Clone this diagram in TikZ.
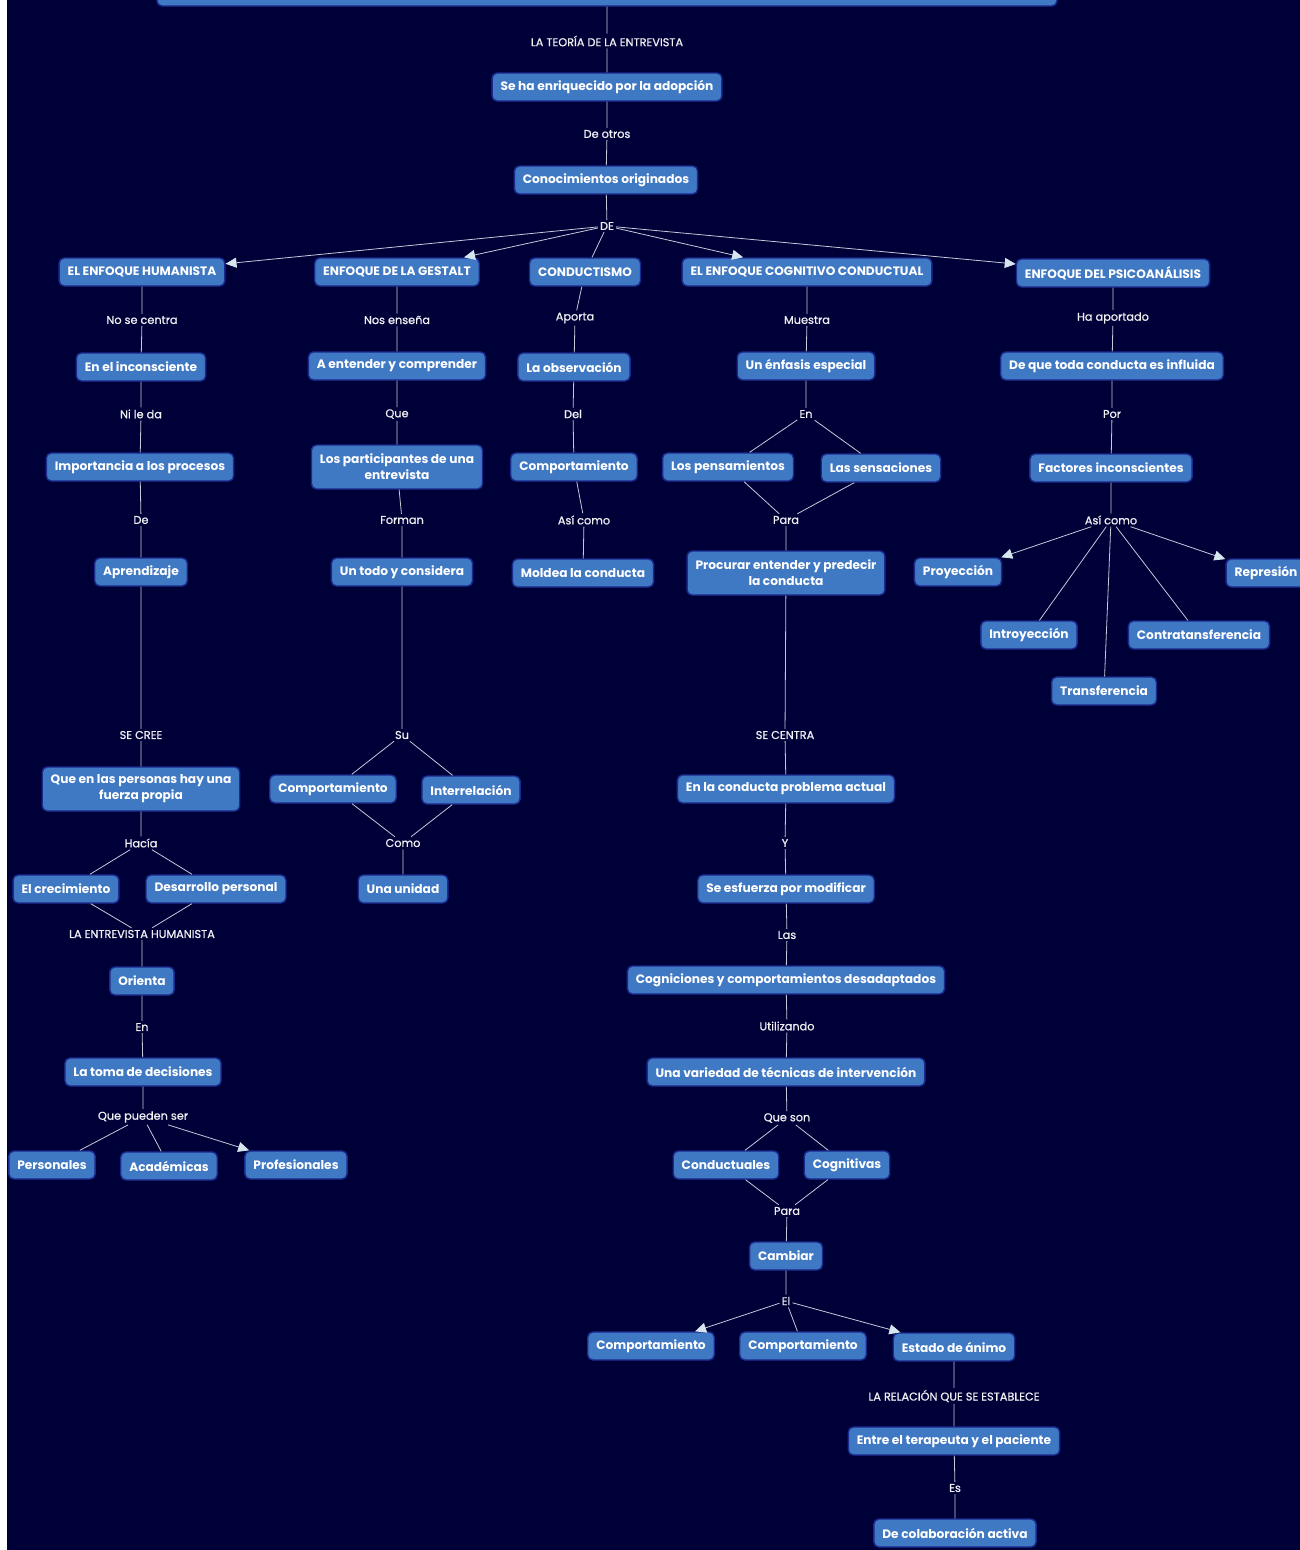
\documentclass[tikz,border=0pt]{standalone}
\usepackage{fontspec}
\setmainfont{Poppins}
\newfontfamily\enlacefont[FakeBold=0.8]{Poppins}
\usetikzlibrary{arrows.meta}
\definecolor{fondo}{HTML}{000038}
\definecolor{caja}{HTML}{3F78C3}
\definecolor{borde}{HTML}{1B2A8E}
\definecolor{linea}{HTML}{C4CAD8}
\definecolor{punta}{HTML}{D6E6EE}
\tikzstyle{concept}=[rectangle,rounded corners=5pt,fill=caja,draw=borde,line width=1.4pt,text=white,font=\fontsize{12.2}{16}\selectfont\bfseries,inner xsep=8.5pt,minimum height=28pt,align=center]
\tikzstyle{doble}=[concept,minimum height=44pt]
\tikzstyle{enlace}=[text=white!94!fondo,font=\enlacefont\fontsize{11.3}{12}\selectfont,inner sep=2pt]

\begin{document}
\begin{tikzpicture}[x=1pt,y=-1pt]
					\tikzstyle{conn}=[draw=linea,line width=0.8pt]
					\tikzstyle{flecha}=[conn,-{Triangle[length=11pt,width=10pt,color=punta]}]
					\useasboundingbox (0,0) rectangle (1300,1550);
					\clip (0,0) rectangle (1300,1550);
					\fill[fondo] (7,0) rectangle (1300,1550);
					% parte superior
					\node[concept,minimum width=900pt,minimum height=40pt] (titulo) at (607,-14) {};
					\node[enlace] (l0) at (607,41) {LA TEORÍA DE LA ENTREVISTA};
					\node[concept] (enriq) at (607,87) {Se ha enriquecido por la adopción};
					\node[enlace] (l1) at (607,134) {De otros};
					\node[concept] (conoc) at (606,180) {Conocimientos originados};
					\node[enlace] (de) at (607,226) {DE};
					\node[concept] (hum) at (142,272) {EL ENFOQUE HUMANISTA};
					\node[concept] (gest) at (397,272) {ENFOQUE DE LA GESTALT};
					\node[concept] (cond) at (585,272) {CONDUCTISMO};
					\node[concept] (cog) at (807,272) {EL ENFOQUE COGNITIVO CONDUCTUAL};
					\node[concept] (psi) at (1113,273) {ENFOQUE DEL PSICOANÁLISIS};
					\draw[conn] (titulo) -- (l0) -- (enriq) -- (l1) -- (conoc) -- (de);
					\draw[flecha] (de) -- (hum);
					\draw[flecha] (de) -- (gest);
					\draw[conn] (de) -- (cond);
					\draw[flecha] (de) -- (cog);
					\draw[flecha] (de) -- (psi);
					% humanista
					\node[enlace] (h1) at (142,320) {No se centra};
					\node[concept] (inco) at (141,367) {En el inconsciente};
					\node[enlace] (h2) at (141,414) {Ni le da};
					\node[concept] (impo) at (140,467) {Importancia a los procesos};
					\node[enlace] (h3) at (141,520) {De};
					\node[concept] (apre) at (141,572) {Aprendizaje};
					\node[enlace] (h4) at (141,735) {SE CREE};
					\node[doble] (fuer) at (141,789) {Que en las personas hay una\\fuerza propia};
					\node[enlace] (h5) at (141,843) {Hacía};
					\node[concept] (crec) at (66,889) {El crecimiento};
					\node[concept] (desa) at (216,889) {Desarrollo personal};
					\node[enlace] (h6) at (142,934) {LA ENTREVISTA HUMANISTA};
					\node[concept] (orie) at (142,981) {Orienta};
					\node[enlace] (h7) at (142,1027) {En};
					\node[concept] (toma) at (143,1072) {La toma de decisiones};
					\node[enlace] (h8) at (143,1117) {Que pueden ser};
					\node[concept] (pers) at (52,1165) {Personales};
					\node[concept] (acad) at (169,1166) {Académicas};
					\node[concept] (prof) at (296,1165) {Profesionales};
					\draw[conn] (hum) -- (h1) -- (inco) -- (h2) -- (impo) -- (h3) -- (apre) -- (h4) -- (fuer) -- (h5);
					\draw[conn] (h5) -- (crec) (h5) -- (desa) (crec) -- (h6) (desa) -- (h6);
					\draw[conn] (h6) -- (orie) -- (h7) -- (toma) -- (h8);
					\draw[conn] (h8) -- (pers) (h8) -- (acad);
					\draw[flecha] (h8) -- (prof);
					% gestalt
					\node[enlace] (g1) at (397,320) {Nos enseña};
					\node[concept] (ente) at (397,366) {A entender y comprender};
					\node[enlace] (g2) at (397,414) {Que};
					\node[doble] (part) at (397,467) {Los participantes de una\\entrevista};
					\node[enlace] (g3) at (402,520) {Forman};
					\node[concept] (todo) at (402,572) {Un todo y considera};
					\node[enlace] (g4) at (402,735) {Su};
					\node[concept] (gcom) at (333,789) {Comportamiento};
					\node[concept] (inte) at (471,790) {Interrelación};
					\node[enlace] (g5) at (403,843) {Como};
					\node[concept] (unid) at (403,889) {Una unidad};
					\draw[conn] (gest) -- (g1) -- (ente) -- (g2) -- (part) -- (g3) -- (todo) -- (g4);
					\draw[conn] (g4) -- (gcom) (g4) -- (inte) (gcom) -- (g5) (inte) -- (g5) (g5) -- (unid);
					% conductismo
					\node[enlace] (c1) at (575,318) {Aporta};
					\node[concept] (obse) at (574,367) {La observación};
					\node[enlace] (c2) at (573,414) {Del};
					\node[concept] (ccom) at (574,467) {Comportamiento};
					\node[enlace] (c3) at (584,520) {Así como};
					\node[concept] (mold) at (583,573) {Moldea la conducta};
					\draw[conn] (cond) -- (c1) -- (obse) -- (c2) -- (ccom) -- (c3) -- (mold);
					% cognitivo conductual
					\node[enlace] (k1) at (807,320) {Muestra};
					\node[concept] (enfa) at (806,366) {Un énfasis especial};
					\node[enlace] (k2) at (806,414) {En};
					\node[concept] (pens) at (728,467) {Los pensamientos};
					\node[concept] (sens) at (881,468) {Las sensaciones};
					\node[enlace] (k3) at (786,520) {Para};
					\node[doble] (proc) at (786,573) {Procurar entender y predecir\\la conducta};
					\node[enlace] (k4) at (785,735) {SE CENTRA};
					\node[concept] (prob) at (786,789) {En la conducta problema actual};
					\node[enlace] (k5) at (785,843) {Y};
					\node[concept] (esfu) at (786,889) {Se esfuerza por modificar};
					\node[enlace] (k6) at (787,935) {Las};
					\node[concept] (cogn) at (786,980) {Cogniciones y comportamientos desadaptados};
					\node[enlace] (k7) at (787,1026) {Utilizando};
					\node[concept] (tecn) at (786,1072) {Una variedad de técnicas de intervención};
					\node[enlace] (k8) at (787,1118) {Que son};
					\node[concept] (cdtl) at (726,1165) {Conductuales};
					\node[concept] (cgtv) at (847,1165) {Cognitivas};
					\node[enlace] (k9) at (787,1211) {Para};
					\node[concept] (camb) at (786,1256) {Cambiar};
					\node[enlace] (k10) at (786,1301) {El};
					\node[concept] (kcom1) at (651,1346) {Comportamiento};
					\node[concept] (kcom2) at (803,1346) {Comportamiento};
					\node[concept] (esta) at (954,1347) {Estado de ánimo};
					\node[enlace] (k11) at (954,1396) {LA RELACIÓN QUE SE ESTABLECE};
					\node[concept] (tera) at (954,1441) {Entre el terapeuta y el paciente};
					\node[enlace] (k12) at (955,1488) {Es};
					\node[concept] (cola) at (955,1533) {De colaboración activa};
					\draw[conn] (cog) -- (k1) -- (enfa) -- (k2);
					\draw[conn] (k2) -- (pens) (k2) -- (sens) (pens) -- (k3) (sens) -- (k3);
					\draw[conn] (k3) -- (proc) -- (k4) -- (prob) -- (k5) -- (esfu) -- (k6) -- (cogn) -- (k7) -- (tecn) -- (k8);
					\draw[conn] (k8) -- (cdtl) (k8) -- (cgtv) (cdtl) -- (k9) (cgtv) -- (k9);
					\draw[conn] (k9) -- (camb) -- (k10);
					\draw[flecha] (k10) -- (kcom1);
					\draw[conn] (k10) -- (kcom2);
					\draw[flecha] (k10) -- (esta);
					\draw[conn] (esta) -- (k11) -- (tera) -- (k12) -- (cola);
					% psicoanalisis
					\node[enlace] (p1) at (1113,318) {Ha aportado};
					\node[concept] (infl) at (1112,366) {De que toda conducta es influida};
					\node[enlace] (p2) at (1112,414) {Por};
					\node[concept] (fact) at (1111,468) {Factores inconscientes};
					\node[enlace] (p3) at (1111,520) {Así como};
					\node[concept] (proy) at (958,572) {Proyección};
					\node[concept] (repr) at (1266,573) {Represión};
					\node[concept] (intr) at (1029,635) {Introyección};
					\node[concept] (cont) at (1199,635) {Contratansferencia};
					\node[concept] (tran) at (1104,691) {Transferencia};
					\draw[conn] (psi) -- (p1) -- (infl) -- (p2) -- (fact) -- (p3);
					\draw[flecha] (p3) -- (proy);
					\draw[flecha] (p3) -- (repr);
					\draw[conn] (p3) -- (intr) (p3) -- (tran) (p3) -- (cont);
\end{tikzpicture}
\end{document}
